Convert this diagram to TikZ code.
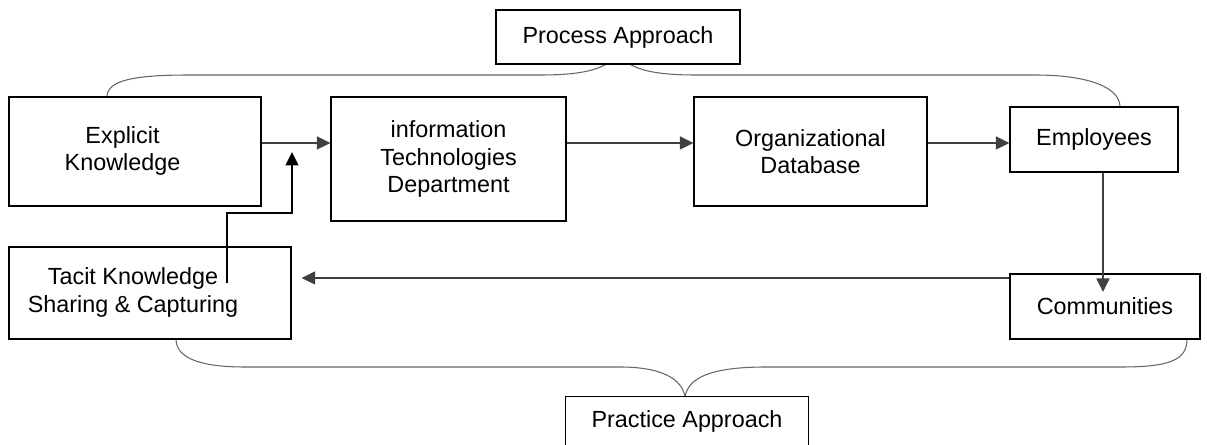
\documentclass[tikz,border=0pt]{standalone}
\usepackage{fontspec}
\setmainfont{Liberation Sans}
\usetikzlibrary{arrows.meta,backgrounds}

\tikzset{
	box/.style={draw, line width=0.8pt, fill=white, align=center, inner sep=0pt, font=\fontsize{13.3}{15.5}\selectfont},
	flow/.style={->, line width=0.9pt, draw=black!75},
	brace/.style={line width=0.6pt, draw=black!60},
	>={Triangle[length=2.7mm,width=2.6mm]}
}

\begin{document}
\begin{tikzpicture}[x=0.02cm, y=-0.02cm]
		\useasboundingbox (0, 0) rectangle (1207, 445);

		\node [box, minimum width=4.88cm, minimum height=1.08cm] (proc) at (618, 37) {Process Approach};
		\node [box, minimum width=5.04cm, minimum height=2.18cm] (expl) at (135, 151.5) {\begin{tabular}{@{}c@{}}Explicit\\Knowledge\end{tabular}\hspace*{0.5cm}};
		\node [box, minimum width=4.70cm, minimum height=2.48cm] (itd) at (448.5, 159) {information\\Technologies\\Department};
		\node [box, minimum width=4.66cm, minimum height=2.18cm] (orgdb) at (810.5, 151.5) {Organizational\\Database};
		\node [box, minimum width=3.36cm, minimum height=1.30cm] (empl) at (1094, 139.5) {Employees};
		\node [box, minimum width=5.64cm, minimum height=1.84cm] (tacit) at (150, 293) {\begin{tabular}{@{}c@{}}Tacit Knowledge\\Sharing \& Capturing\end{tabular}\hspace*{0.68cm}};
		\node [box, minimum width=3.80cm, minimum height=1.30cm] (comm) at (1105, 306.5) {Communities};
		\node [box, draw=none, minimum width=4.84cm, minimum height=0.98cm] (pract) at (687, 421.5) {Practice Approach};
		\draw [line width=0.8pt] (pract.south west) -- (pract.north west) -- (pract.north east) -- (pract.south east);

		\begin{pgfonlayer}{background}
			\draw [brace] (107, 97) .. controls (107, 80) and (135, 75) .. (190, 75) -- (541, 75) .. controls (580, 75) and (612, 70) .. (618, 50) .. controls (624, 70) and (656, 75) .. (695, 75) -- (1035, 75) .. controls (1090, 75) and (1120, 88) .. (1120, 107);
			\draw [brace] (176, 339) .. controls (176, 360) and (205, 367) .. (245, 367) -- (620, 367) .. controls (660, 367) and (682, 378) .. (685, 397) .. controls (688, 378) and (710, 367) .. (766, 367) -- (1121, 367) .. controls (1170, 367) and (1187, 360) .. (1187, 339);
		\end{pgfonlayer}

		\coordinate (lvl) at (0, 143);
		\coordinate (lvl2) at (0, 278);
		\coordinate (tk) at (227, 283);
		\coordinate (tkend) at (292, 152);
		\coordinate (commin) at (1103, 292);

		\draw [flow] (expl.east |- lvl) -- (itd.west |- lvl);
		\draw [flow] (itd.east |- lvl) -- (orgdb.west |- lvl);
		\draw [flow] (orgdb.east |- lvl) -- (empl.west |- lvl);
		\draw [flow] (empl.south -| commin) -- (commin);
		\draw [flow, shorten >=0.2cm] (comm.west |- lvl2) -- (tacit.east |- lvl2);
		\draw [flow, draw=black, line width=0.7pt] (tk) -- ++(0, -70) -| (tkend);
	\end{tikzpicture}
\end{document}
